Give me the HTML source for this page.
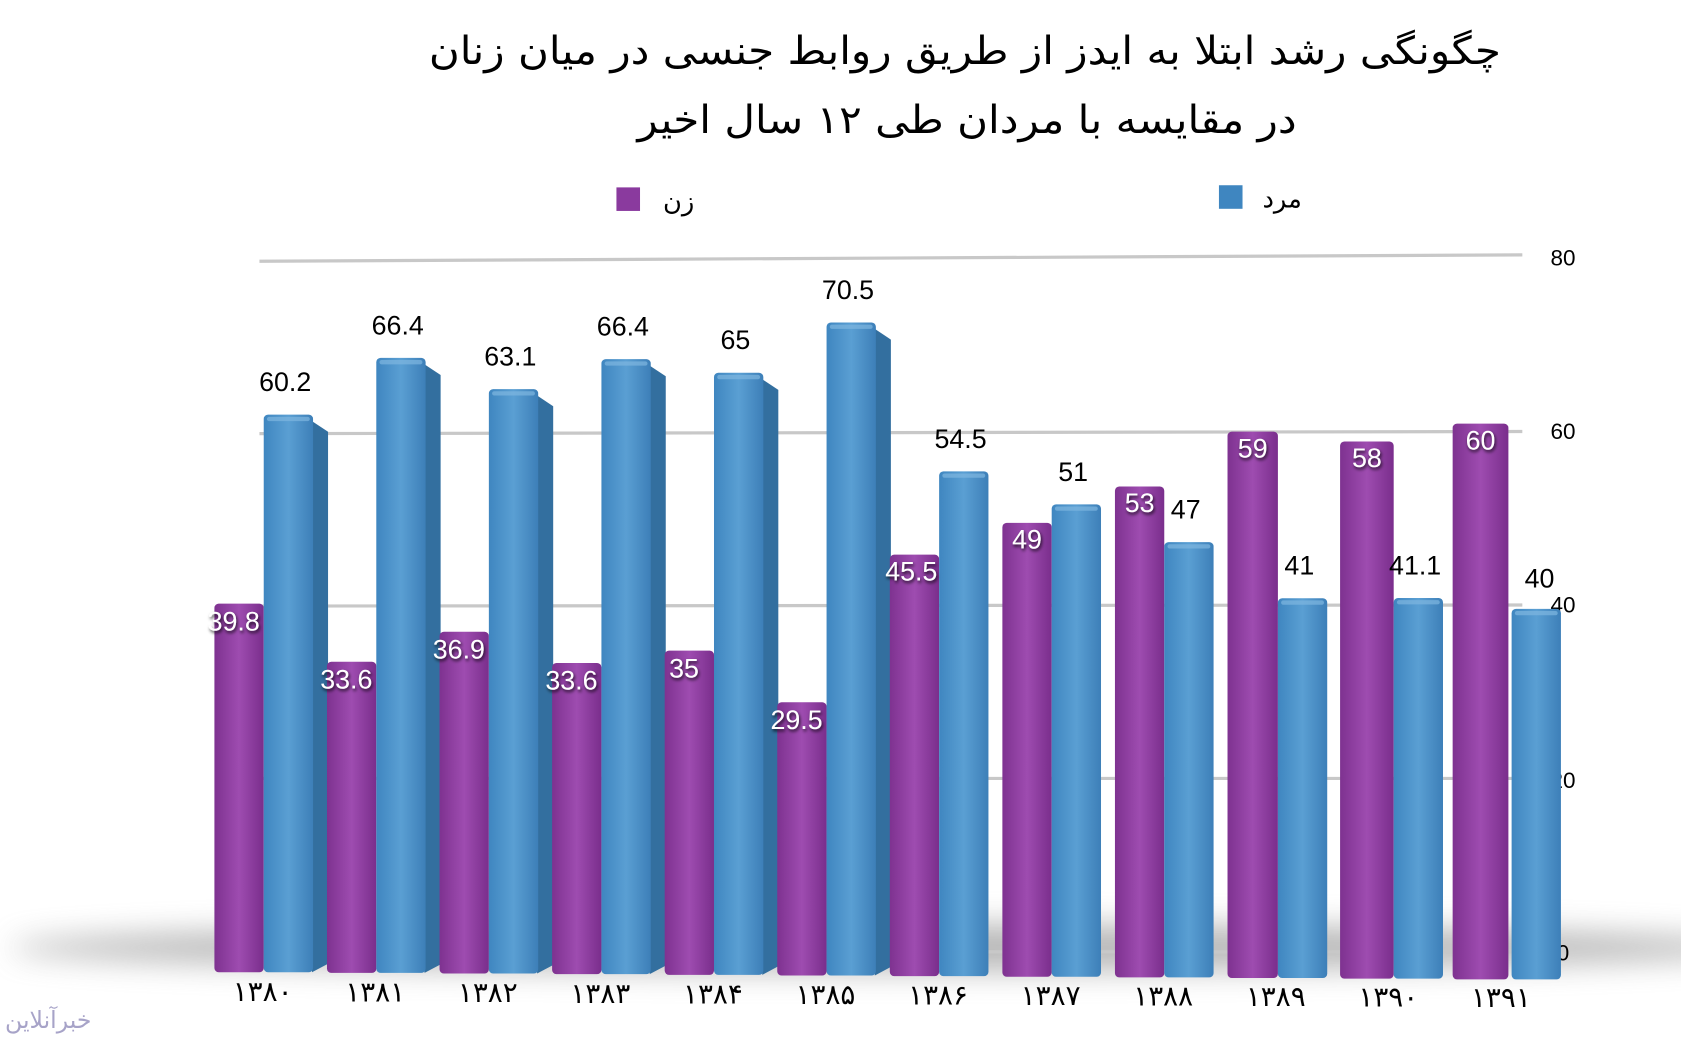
<!DOCTYPE html>
<html><head><meta charset="utf-8"><style>
html,body{margin:0;padding:0;background:#fff;}
svg{display:block}
</style></head><body>
<svg width="1681" height="1044" viewBox="0 0 1568 975" preserveAspectRatio="none" xmlns="http://www.w3.org/2000/svg">
<defs>
<linearGradient id="gb" x1="0" x2="1"><stop offset="0" stop-color="#3f86c0"/><stop offset="0.5" stop-color="#5a9fd3"/><stop offset="1" stop-color="#3d7fb8"/></linearGradient>
<linearGradient id="gp" x1="0" x2="1"><stop offset="0" stop-color="#7e3290"/><stop offset="0.5" stop-color="#9e4cb0"/><stop offset="1" stop-color="#7a2e8c"/></linearGradient>
<filter id="bl" x="-20%" y="-200%" width="140%" height="500%"><feGaussianBlur stdDeviation="14"/></filter>
<filter id="ts"><feDropShadow dx="1" dy="2" stdDeviation="1.5" flood-color="#000" flood-opacity="0.8"/></filter>
</defs>
<ellipse cx="830" cy="885" rx="820" ry="22" fill="#888" opacity="0.6" filter="url(#bl)"/>
<g font-family="'DejaVu Sans','Noto Sans CJK SC',sans-serif" text-anchor="middle" fill="#000">
<text x="900" y="60" font-size="36" direction="rtl" textLength="1000" lengthAdjust="spacingAndGlyphs">چگونگی رشد ابتلا به ایدز از طریق روابط جنسی در میان زنان</text>
<text x="902" y="124" font-size="36" direction="rtl" textLength="615" lengthAdjust="spacingAndGlyphs">در مقایسه با مردان طی ۱۲ سال اخیر</text>
</g>
<rect x="575" y="175" width="22" height="22" fill="#8a3a9e"/>
<text x="633" y="196" font-family="'DejaVu Sans',sans-serif" font-size="24" text-anchor="middle">زن</text>
<rect x="1137" y="173" width="22" height="22" fill="#3f86c0"/>
<text x="1196" y="194" font-family="'DejaVu Sans',sans-serif" font-size="24" text-anchor="middle">مرد</text>
<g stroke="#c8c8c8" stroke-width="3">
<line x1="242" y1="244" x2="1420" y2="238"/>
<line x1="242" y1="405" x2="1420" y2="403"/>
<line x1="242" y1="566" x2="1420" y2="565"/>
<line x1="242" y1="727" x2="1420" y2="727"/>
<line x1="242" y1="889" x2="1420" y2="889"/>
</g>
<g font-family="'Liberation Sans',sans-serif" font-size="21" text-anchor="middle">
<text x="1458" y="248">80</text><text x="1458" y="410">60</text><text x="1458" y="572">40</text><text x="1458" y="736">20</text><text x="1458" y="897">0</text>
</g>
<g id="bars"></g>
<g font-family="'DejaVu Sans',sans-serif" font-size="26" text-anchor="middle" id="xl"></g>
<text x="45" y="960" font-family="'DejaVu Sans',sans-serif" font-size="22" fill="#a7a3c8" text-anchor="middle">خبرآنلاین</text>
<script>
var P=[39.8,33.6,36.9,33.6,35,29.5,45.5,49,53,59,58,60];
var B=[60.2,66.4,63.1,66.4,65,70.5,54.5,51,47,41,41.1,40];
var yrs=["۱۳۸۰","۱۳۸۱","۱۳۸۲","۱۳۸۳","۱۳۸۴","۱۳۸۵","۱۳۸۶","۱۳۸۷","۱۳۸۸","۱۳۸۹","۱۳۹۰","۱۳۹۱"];
var PX=[200,305,410,515,620,725,830,935,1040,1145,1250,1355];
var BX=[246,351,456,561,666,771,876,981,1086,1192,1300,1410];
var ns="http://www.w3.org/2000/svg",g=document.getElementById("bars"),xl=document.getElementById("xl");
function el(t,a,p){var e=document.createElementNS(ns,t);for(var k in a)e.setAttribute(k,a[k]);(p||g).appendChild(e);return e;}
for(var i=0;i<12;i++){
 var px=PX[i],bx=BX[i],base=908+i*0.6;
 var pw=bx-px; if(i==11)pw=52;
 var pt=base-8.65*P[i],bt=base-8.65*B[i];
 el("rect",{x:px,y:pt,width:pw,height:base-pt,rx:4,fill:"url(#gp)"});
 if(i<6){el("polygon",{points:(bx+45)+","+(bt+6)+" "+(bx+60)+","+(bt+16)+" "+(bx+60)+","+(base-8)+" "+(bx+45)+","+base,fill:"#336f9f"});}
 el("rect",{x:bx,y:bt,width:46,height:base-bt,rx:4,fill:"url(#gb)"});
 el("rect",{x:bx+3,y:bt+2,width:40,height:4,rx:2,fill:"#7fb6e0",opacity:0.7});
 var t=el("text",{x:bx+(i==11?26:20),y:(i==11?bt-20:bt-22),"font-family":"'Liberation Sans',sans-serif","font-size":25,"text-anchor":"middle"});t.textContent=B[i];
 var ty=i<6?pt+25:pt+24,tx=i<6?px+18:px+pw/2; if(i==6)tx=px+20;
 var t2=el("text",{x:tx,y:ty,"font-family":"'Liberation Sans',sans-serif","font-size":25,"text-anchor":"middle",fill:"#fff",filter:"url(#ts)"});t2.textContent=P[i];
 var t3=el("text",{x:px+45,y:935+i*0.5},xl);t3.textContent=yrs[i];
}
</script>
</svg>
</body></html>
